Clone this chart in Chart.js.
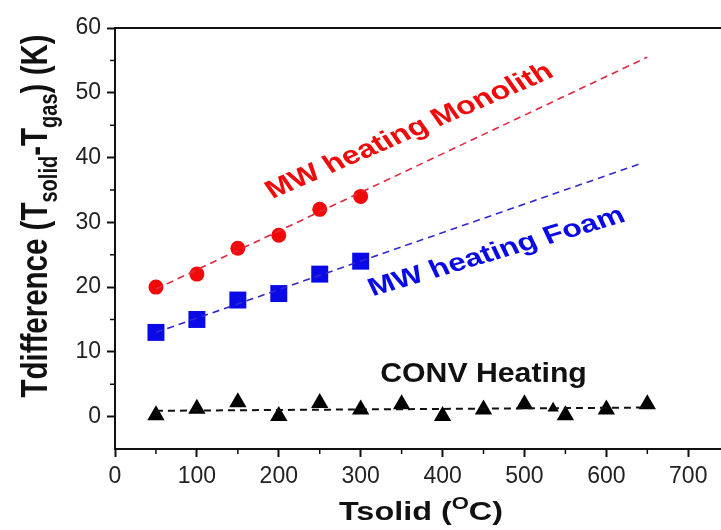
<!DOCTYPE html>
<html>
<head>
<meta charset="utf-8">
<script src="https://cdn.jsdelivr.net/npm/chart.js@4/dist/chart.umd.min.js"></script>
<style>
	body { margin: 0; background: #fff; }
	canvas { display: block; }
</style>
</head>
<body>
<canvas id="diff-chart" width="721" height="530"></canvas>
<script>
// data
const monolithX = [50, 100, 150, 200, 250, 300]
const monolithY = [20, 22, 26, 28, 32, 34]
const monolithFitX = [50, 650]
const monolithFitY = [19.7, 55.5]

const foamX = [50, 100, 150, 200, 250, 300]
const foamY = [13, 15, 18, 19, 22, 24]
const foamFitX = [50, 645]
const foamFitY = [13.0, 39.2]

const convX = [50, 100, 150, 200, 250, 300, 350, 400, 450, 500, 535, 550, 600, 650]
const convY = [0.2, 1.2, 2.2, 0.1, 2.1, 1.1, 1.9, 0.1, 1.1, 1.9, 1.3, 0.2, 1.1, 1.9]
const convFitX = [50, 650]
const convFitY = [0.9, 1.4]

const xTicks = [0, 100, 200, 300, 400, 500, 600, 700]
const yTicks = [0, 10, 20, 30, 40, 50, 60]
const xMinor = [50, 150, 250, 350, 450, 550, 650]
const yMinor = [5, 15, 25, 35, 45, 55]

const RED = 'rgb(240,10,10)'
const BLUE = 'rgb(10,10,230)'
const FONT = '"Liberation Sans", Arial, sans-serif'

const pts = (xs, ys) => xs.map((x, i) => ({ x: x, y: ys[i] }))

// pieces: [text, shift] where shift = 0 normal, 1 sub, -1 sup
// the source figure is stretched sideways, so text gets an x scale (sx)
const drawText = (ctx, px, py, pieces, size, sx, deg) => {
	const small = size * 0.68
	ctx.save()
	ctx.translate(px, py)
	ctx.scale(sx, 1)
	ctx.rotate(deg * Math.PI / 180)
	let w = 0
	pieces.forEach(p => {
		ctx.font = 'bold ' + (p[1] ? small : size) + 'px ' + FONT
		w += ctx.measureText(p[0]).width
	})
	let x = -w / 2
	pieces.forEach(p => {
		ctx.font = 'bold ' + (p[1] ? small : size) + 'px ' + FONT
		const dy = p[1] === 1 ? size * 0.28 : p[1] === -1 ? -size * 0.42 : 0
		ctx.fillText(p[0], x, dy)
		x += ctx.measureText(p[0]).width
	})
	ctx.restore()
}

const decor = {
	id: 'decor',
	afterDraw(chart) {
		const ctx = chart.ctx
		const a = chart.chartArea
		const xs = chart.scales.x
		const ys = chart.scales.y
		ctx.save()
		// top frame
		ctx.strokeStyle = '#111'
		ctx.lineWidth = 2
		ctx.beginPath()
		ctx.moveTo(a.left - 1, a.top)
		ctx.lineTo(a.right, a.top)
		ctx.stroke()
		// minor ticks
		ctx.lineWidth = 1.5
		ctx.beginPath()
		yMinor.forEach(v => {
			const y = ys.getPixelForValue(v)
			ctx.moveTo(a.left - 5, y)
			ctx.lineTo(a.left, y)
		})
		xMinor.forEach(v => {
			const x = xs.getPixelForValue(v)
			ctx.moveTo(x, a.bottom)
			ctx.lineTo(x, a.bottom + 5)
		})
		ctx.stroke()

		ctx.textBaseline = 'alphabetic'
		ctx.textAlign = 'left'
		ctx.fillStyle = '#111'
		// axis titles
		drawText(ctx, 47, 216, [['Tdifference (T', 0], ['solid', 1], ['-T', 0], ['gas', 1], [') (K)', 0]], 29.5, 1.27, -90)
		drawText(ctx, 421, 520, [['Tsolid (', 0], ['O', -1], ['C)', 0]], 25.5, 1.27, 0)

		// curve labels, anchored in data space
		ctx.fillStyle = RED
		drawText(ctx, xs.getPixelForValue(365), ys.getPixelForValue(43.1), [['MW heating Monolith', 0]], 25.3, 1.27, -28.9)
		ctx.fillStyle = BLUE
		drawText(ctx, xs.getPixelForValue(470), ys.getPixelForValue(24.4), [['MW heating Foam', 0]], 25, 1.27, -20.6)
		ctx.fillStyle = '#111'
		drawText(ctx, xs.getPixelForValue(450), ys.getPixelForValue(5.4), [['CONV Heating', 0]], 27, 1.12, 0)
		ctx.restore()
	}
}

const fitLine = (data, color, width) => ({
	data: data,
	showLine: true,
	borderColor: color,
	borderWidth: width,
	borderDash: [7, 5],
	pointRadius: 0,
	fill: false
})

new Chart('diff-chart', {
	type: 'scatter',
	data: {
		datasets: [
			fitLine(pts(monolithFitX, monolithFitY), 'rgb(225,40,60)', 1.6),
			fitLine(pts(foamFitX, foamFitY), 'rgb(50,40,210)', 1.6),
			fitLine(pts(convFitX, convFitY), '#111', 2),
			{
				data: pts(monolithX, monolithY),
				pointStyle: 'circle',
				pointRadius: 7.5,
				backgroundColor: RED,
				borderColor: RED,
				borderWidth: 0
			},
			{
				data: pts(foamX, foamY),
				pointStyle: 'rect',
				pointRadius: 12,
				backgroundColor: BLUE,
				borderColor: BLUE,
				borderWidth: 0
			},
			{
				data: pts(convX, convY),
				pointStyle: 'triangle',
				pointRadius: convX.map(x => (x === 535 ? 6.5 : 10)),
				backgroundColor: '#000',
				borderColor: '#000',
				borderWidth: 0
			}
		]
	},
	options: {
		responsive: false,
		animation: false,
		devicePixelRatio: 1,
		layout: { autoPadding: false, padding: { top: 28, right: 0, left: 0, bottom: 0 } },
		plugins: { legend: { display: false }, tooltip: { enabled: false } },
		scales: {
			x: {
				type: 'linear',
				min: 0,
				max: 740,
				afterBuildTicks: s => { s.ticks = xTicks.map(v => ({ value: v })) },
				afterFit: s => { s.height = 81 },
				grid: { drawOnChartArea: false, drawTicks: true, tickLength: 8, tickWidth: 2, tickColor: '#111' },
				border: { display: true, color: '#111', width: 2 },
				ticks: { color: '#222', padding: 6, font: { family: FONT, size: 23 }, maxRotation: 0 }
			},
			y: {
				type: 'linear',
				min: -5,
				max: 60,
				afterBuildTicks: s => { s.ticks = yTicks.map(v => ({ value: v })) },
				afterFit: s => { s.width = 115 },
				grid: { drawOnChartArea: false, drawTicks: true, tickLength: 8, tickWidth: 2, tickColor: '#111' },
				border: { display: true, color: '#111', width: 2 },
				ticks: { color: '#222', padding: 6, font: { family: FONT, size: 23 } }
			}
		}
	},
	plugins: [decor]
})
</script>
</body>
</html>
